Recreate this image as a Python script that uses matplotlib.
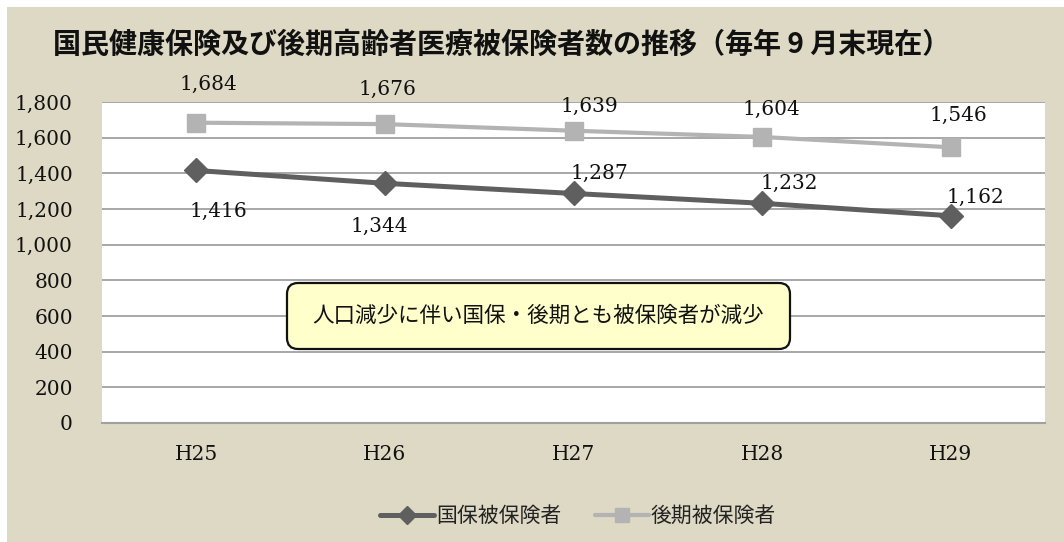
import matplotlib
matplotlib.use("Agg")
import matplotlib.pyplot as plt
from matplotlib.patches import Rectangle, FancyBboxPatch
from matplotlib.transforms import IdentityTransform
from matplotlib.ticker import FuncFormatter

# ---- data ----
categories = ["H25", "H26", "H27", "H28", "H29"]
kokuho = [1416, 1344, 1287, 1232, 1162]
kouki = [1684, 1676, 1639, 1604, 1546]
series_names = ["国保被保険者", "後期被保険者"]
title = "国民健康保険及び後期高齢者医療被保険者数の推移（毎年 9 月末現在）"
note = "人口減少に伴い国保・後期とも被保険者が減少"
yticks = [0, 200, 400, 600, 800, 1000, 1200, 1400, 1600, 1800]

# ---- style ----
W, H = 1064, 542
BEIGE = "#DDD9C4"
DARK = "#5F5F5F"
LIGHT = "#B3B3B3"
GRID = "#A0A0A0"
SERIF = ["DejaVu Serif"]
SANS = ["Noto Sans CJK JP", "DejaVu Sans"]
FS = 14.5
# label offsets in pixels (dx, dy up)
kokuho_off = [(22, -41), (-6, -43), (26, 20), (27, 20), (25, 18)]
kouki_off = [(12, 38), (3, 35), (16, 24), (9, 28), (8, 32)]

fig = plt.figure(figsize=(W / 100, H / 100), dpi=100)
fig.patch.set_facecolor("white")
fig.add_artist(Rectangle((7 / W, 0), 1 - 7 / W, (H - 7) / H,
                         transform=fig.transFigure, facecolor=BEIGE,
                         edgecolor="none", zorder=0))

left, right, top, bottom = 102, 1045, 102, 423
ax = fig.add_axes([left / W, (H - bottom) / H, (right - left) / W, (bottom - top) / H])
ax.set_facecolor("white")
x = list(range(len(categories)))

ax.plot(x, kokuho, color=DARK, lw=3.6, marker="D", ms=12, zorder=3,
        label=series_names[0], solid_capstyle="round")
ax.plot(x, kouki, color=LIGHT, lw=3.0, marker="s", ms=13, zorder=3,
        label=series_names[1], solid_capstyle="round")

ax.set_xlim(-0.5, len(categories) - 0.5)
ax.set_ylim(0, 1800)
ax.set_yticks(yticks)
ax.yaxis.set_major_formatter(FuncFormatter(lambda v, p: f"{int(v):,}"))
ax.set_xticks(x)
ax.set_xticklabels(categories)
ax.grid(axis="y", color=GRID, lw=1.3)
ax.set_axisbelow(True)
for s in ["left", "right", "top"]:
    ax.spines[s].set_visible(False)
ax.spines["bottom"].set_color(GRID)
ax.spines["bottom"].set_linewidth(1.5)
ax.tick_params(axis="both", length=0)
ax.tick_params(axis="y", pad=21)
ax.tick_params(axis="x", pad=16)
for lab in ax.get_yticklabels() + ax.get_xticklabels():
    lab.set_fontfamily(SERIF)
    lab.set_fontsize(FS)
    lab.set_color("#111111")

for xi, v, (dx, dy) in zip(x, kokuho, kokuho_off):
    ax.annotate(f"{v:,}", (xi, v), xytext=(dx, dy), textcoords="offset pixels",
                ha="center", va="center", fontsize=FS, family=SERIF,
                color="#111111", annotation_clip=False)
for xi, v, (dx, dy) in zip(x, kouki, kouki_off):
    ax.annotate(f"{v:,}", (xi, v), xytext=(dx, dy), textcoords="offset pixels",
                ha="center", va="center", fontsize=FS, family=SERIF,
                color="#111111", annotation_clip=False)

# title
fig.text(53 / W, (H - 45) / H, title, ha="left", va="center",
         fontsize=20.2, fontweight="bold", family=SANS, color="#111111")

# note box (pixel coordinates)
bx0, bx1, by0, by1 = 287, 790, 283, 349
box = FancyBboxPatch((bx0, H - by1), bx1 - bx0, by1 - by0,
                     boxstyle="round,pad=0,rounding_size=11",
                     transform=IdentityTransform(), facecolor="#FFFFCC",
                     edgecolor="#111111", lw=1.6, zorder=5)
fig.add_artist(box)
fig.text((bx0 + bx1) / 2 / W, (H - (by0 + by1) / 2) / H, note,
         ha="center", va="center", fontsize=15.5, family=SANS,
         color="#111111", zorder=6)

leg = ax.legend(loc="center", bbox_to_anchor=(578 / W, (H - 516) / H),
                bbox_transform=fig.transFigure, ncol=2, frameon=False,
                prop={"family": SANS, "size": 15}, handlelength=2.6,
                handletextpad=0.1, columnspacing=1.6, markerscale=0.8)
for t in leg.get_texts():
    t.set_color("#222222")

fig.savefig("out.png", dpi=100, facecolor=fig.get_facecolor())
